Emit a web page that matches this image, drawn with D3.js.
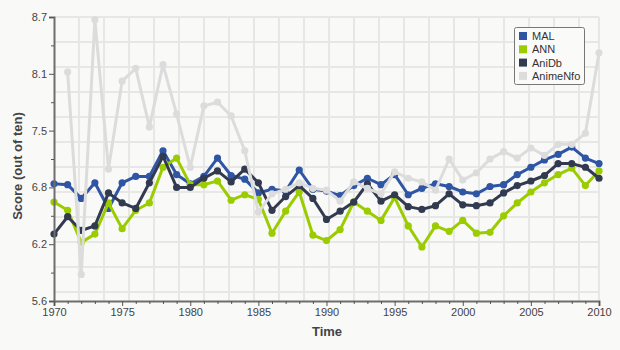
<!DOCTYPE html>
<html>
<head>
<meta charset="utf-8">
<script src="https://cdn.jsdelivr.net/npm/d3@7"></script>
<style>
  html, body { margin: 0; padding: 0; background: #f9f9f8; }
  svg { display: block; font-family: "Liberation Sans", Arial, sans-serif; }
</style>
</head>
<body>
<svg id="chart" width="620" height="350"></svg>
<script>
// Average score per year, 1970–2010, for four anime databases
const years = d3.range(1970, 2011);

const mal = [6.88, 6.87, 6.72, 6.89, 6.61, 6.89, 6.96, 6.96, 7.24, 6.98,
             6.88, 6.96, 7.16, 6.97, 6.93, 6.78, 6.82, 6.80, 7.03, 6.82,
             6.80, 6.75, 6.86, 6.94, 6.87, 6.98, 6.76, 6.83, 6.88, 6.85,
             6.79, 6.77, 6.85, 6.87, 6.98, 7.06, 7.14, 7.20, 7.28, 7.16, 7.10];

const ann = [6.68, 6.59, 6.24, 6.33, 6.67, 6.39, 6.59, 6.67, 7.06, 7.16,
             6.87, 6.87, 6.91, 6.70, 6.76, 6.71, 6.34, 6.58, 6.79, 6.32,
             6.26, 6.38, 6.68, 6.58, 6.48, 6.73, 6.42, 6.19, 6.42, 6.36,
             6.48, 6.34, 6.35, 6.53, 6.67, 6.79, 6.89, 6.98, 7.05, 6.86, 7.02];

const anidb = [6.33, 6.52, 6.37, 6.42, 6.78, 6.67, 6.61, 6.89, 7.18, 6.84,
               6.84, 6.94, 7.02, 6.90, 7.04, 6.89, 6.59, 6.74, 6.86, 6.72,
               6.49, 6.58, 6.68, 6.88, 6.69, 6.76, 6.63, 6.60, 6.64, 6.77,
               6.65, 6.64, 6.67, 6.78, 6.86, 6.91, 6.97, 7.10, 7.10, 7.06, 6.94];

const animenfo = [null, 8.10, 5.89, 8.67, 7.04, 8.00, 8.14, 7.50, 8.18, 7.64,
                  7.06, 7.73, 7.77, 7.62, 7.24, 6.57, 6.77, 6.82, 6.89, 6.83,
                  6.81, 6.69, 6.90, 6.83, 6.77, 7.01, 6.94, 6.90, 6.81, 7.15,
                  6.92, 7.00, 7.15, 7.23, 7.16, 7.27, 7.19, 7.31, 7.31, 7.43, 8.31];

const seriesNames = ["MAL", "ANN", "AniDb", "AnimeNfo"];
const seriesColors = ["#2f55a5", "#9bcc00", "#323a50", "#dcdcdc"];
const seriesValues = [mal, ann, anidb, animenfo];

const yDomain = [5.6, 8.7];
const xTickYears = [1970, 1975, 1980, 1985, 1990, 1995, 2000, 2005, 2010];

const svg = d3.select("#chart");
const plotLeft = 54, plotRight = 599, plotTop = 17, plotBottom = 301;

const x = d3.scaleLinear().domain([1970, 2010]).range([plotLeft, plotRight]);
const y = d3.scaleLinear().domain(yDomain).range([plotBottom, plotTop]);

// background grid: fixed 25px squares
const grid = svg.append("g").attr("stroke", "#e7e7e6").attr("stroke-width", 2);
for (let gx = plotLeft + 25; gx < plotRight; gx += 25) {
  grid.append("line").attr("x1", gx).attr("x2", gx).attr("y1", plotTop).attr("y2", plotBottom);
}
grid.append("line").attr("x1", plotRight).attr("x2", plotRight).attr("y1", plotTop).attr("y2", plotBottom);
for (let gy = plotTop; gy < plotBottom; gy += 25) {
  grid.append("line").attr("x1", plotLeft).attr("x2", plotRight).attr("y1", gy).attr("y2", gy);
}

// series lines and points
const line = d3.line()
  .defined(d => d.v != null)
  .x(d => x(d.year))
  .y(d => y(d.v));

seriesValues.forEach((vals, i) => {
  const data = years.map((yr, j) => ({ year: yr, v: vals[j] }));
  const g = svg.append("g");
  g.append("path")
    .datum(data)
    .attr("fill", "none")
    .attr("stroke", seriesColors[i])
    .attr("stroke-width", 3)
    .attr("stroke-linejoin", "round")
    .attr("d", line);
  g.selectAll("circle")
    .data(data.filter(d => d.v != null))
    .join("circle")
    .attr("cx", d => x(d.year))
    .attr("cy", d => y(d.v))
    .attr("r", 3.6)
    .attr("fill", seriesColors[i]);
});

// y axis
const yMajor = d3.range(6).map(k => yDomain[0] + k * (yDomain[1] - yDomain[0]) / 5);
const yMinor = d3.range(5).map(k => (yMajor[k] + yMajor[k + 1]) / 2);

svg.append("g")
  .attr("transform", `translate(${plotLeft},0)`)
  .call(d3.axisLeft(y).tickValues(yMajor).tickFormat(d3.format(".1f")).tickSize(5).tickPadding(2));
svg.append("g")
  .attr("transform", `translate(${plotLeft},0)`)
  .call(d3.axisLeft(y).tickValues(yMinor).tickFormat("").tickSize(3))
  .call(g => g.select(".domain").remove());

// x axis
svg.append("g")
  .attr("transform", `translate(0,${plotBottom})`)
  .call(d3.axisBottom(x).tickValues(xTickYears).tickFormat(d3.format("d")).tickSize(5).tickPadding(2));
svg.append("g")
  .attr("transform", `translate(0,${plotBottom})`)
  .call(d3.axisBottom(x).tickValues(years.filter(yr => yr % 5 !== 0)).tickFormat("").tickSize(3))
  .call(g => g.select(".domain").remove());

svg.selectAll(".domain").attr("stroke", "#6e6e6e").attr("stroke-width", 2);
svg.selectAll(".tick line").attr("stroke", "#555");
svg.selectAll(".tick text").attr("fill", "#444").attr("font-size", 11)
  .attr("font-family", "'Liberation Sans', Arial, sans-serif");

// axis titles
svg.append("text")
  .attr("transform", "translate(22,166) rotate(-90)")
  .attr("text-anchor", "middle")
  .attr("font-size", 13).attr("font-weight", "bold").attr("fill", "#444")
  .text("Score (out of ten)");
svg.append("text")
  .attr("x", 327).attr("y", 336)
  .attr("text-anchor", "middle")
  .attr("font-size", 13).attr("font-weight", "bold").attr("fill", "#444")
  .text("Time");

// legend
const legend = svg.append("g").attr("transform", "translate(514,27)");
legend.append("rect")
  .attr("x", 0.5).attr("y", 0.5).attr("width", 70).attr("height", 57).attr("rx", 2)
  .attr("fill", "#fafaf9").attr("stroke", "#777");
seriesNames.forEach((name, i) => {
  const row = legend.append("g").attr("transform", `translate(5,${5 + i * 13.3})`);
  row.append("rect").attr("width", 8).attr("height", 8).attr("fill", seriesColors[i]);
  row.append("text").attr("x", 13).attr("y", 8).attr("font-size", 11).attr("fill", "#333").text(name);
});
</script>
</body>
</html>
